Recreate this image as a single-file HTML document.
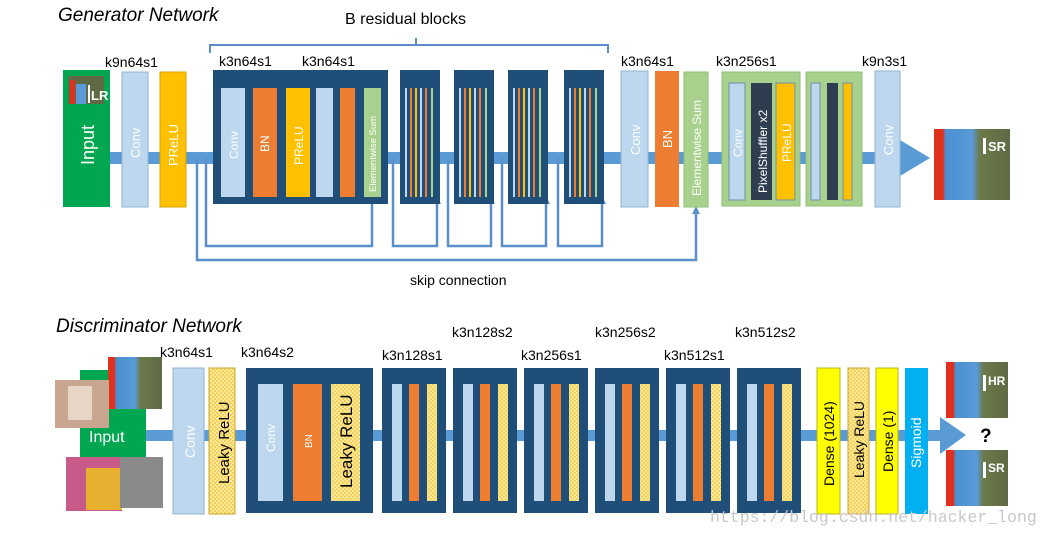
<!DOCTYPE html>
<html><head><meta charset="utf-8"><style>
html,body{margin:0;padding:0;background:#fff;}
svg{display:block;font-family:"Liberation Sans",sans-serif;}
</style></head><body>
<svg width="1051" height="536" viewBox="0 0 1051 536" xmlns="http://www.w3.org/2000/svg">
<defs>
<pattern id="chk" width="4" height="4" patternUnits="userSpaceOnUse">
<rect width="4" height="4" fill="#fbe89a"/><rect width="2" height="2" fill="#f4d25a"/><rect x="2" y="2" width="2" height="2" fill="#f4d25a"/>
</pattern>
<linearGradient id="bab" x1="0" x2="1" y1="0" y2="0">
<stop offset="0" stop-color="#e0301e"/><stop offset="0.12" stop-color="#e0301e"/><stop offset="0.15" stop-color="#4a90d0"/><stop offset="0.5" stop-color="#5a9ad8"/><stop offset="0.6" stop-color="#6b7a4a"/><stop offset="1" stop-color="#5e6a44"/>
</linearGradient>
</defs>
<g fill="#000">
<text x="58" y="21" font-size="19" font-style="italic">Generator Network</text>
<text x="345" y="24" font-size="16">B residual blocks</text>
</g>
<path d="M210 53 V45 H608 V53 M416 45 V38" stroke="#5b8fc9" stroke-width="2" fill="none"/>
<rect x="108" y="152" width="795" height="12" fill="#5b9bd5"/>
<polygon points="900,140 930,158 900,176" fill="#5b9bd5"/>
<g stroke="#5b8fc9" stroke-width="2.5" fill="none">
<path d="M197 158 V260 H696 V212"/>
<path d="M206 158 V246 H372 V202"/>
<path d="M393 158 V246 H437 V202"/>
<path d="M448 158 V246 H491 V202"/>
<path d="M502 158 V246 H546 V202"/>
<path d="M558 158 V246 H602 V202"/>
</g>
<g fill="#5b8fc9">
<polygon points="368,204 376,204 372,196"/><polygon points="433,204 441,204 437,196"/><polygon points="487,204 495,204 491,196"/><polygon points="542,204 550,204 546,196"/><polygon points="598,204 606,204 602,196"/><polygon points="692,214 700,214 696,206"/>
</g>
<text x="410" y="285" font-size="14">skip connection</text>
<rect x="63" y="70" width="47" height="137" fill="#00a650"/>
<rect x="68" y="76" width="36" height="28" fill="#5e6a44"/><rect x="70" y="80" width="5" height="24" fill="#e0301e"/><rect x="76" y="84" width="10" height="20" fill="#5a9ad8"/>
<text x="91" y="100" font-size="13" font-weight="bold" fill="#fff">LR</text>
<rect x="88" y="85" width="2" height="18" fill="#fff"/>
<text transform="translate(94,165) rotate(-90)" font-size="18" fill="#fff">Input</text>
<text x="105" y="67" font-size="14">k9n64s1</text>
<rect x="122" y="72" width="26" height="135" fill="#bdd7ee" stroke="#93b3d3"/>
<text transform="translate(140,158) rotate(-90)" font-size="13" fill="#fff">Conv</text>
<rect x="160" y="72" width="26" height="135" fill="#ffc000" stroke="#d9a300"/>
<text transform="translate(178,166) rotate(-90)" font-size="13" fill="#fff">PReLU</text>
<rect x="213" y="70" width="175" height="134" fill="#1f4e79"/>
<text x="219" y="66" font-size="14">k3n64s1</text><text x="302" y="66" font-size="14">k3n64s1</text>
<rect x="221" y="88" width="24" height="109" fill="#bdd7ee"/>
<rect x="253" y="88" width="24" height="109" fill="#ed7d31"/>
<rect x="286" y="88" width="24" height="109" fill="#ffc000"/>
<rect x="316" y="88" width="17" height="109" fill="#bdd7ee"/>
<rect x="340" y="88" width="15" height="109" fill="#ed7d31"/>
<rect x="364" y="88" width="17" height="109" fill="#a9d18e"/>
<text transform="translate(238,159) rotate(-90)" font-size="12" fill="#fff">Conv</text>
<text transform="translate(269,152) rotate(-90)" font-size="12" fill="#fff">BN</text>
<text transform="translate(303,165) rotate(-90)" font-size="12" fill="#fff">PReLU</text>
<text transform="translate(376,192) rotate(-90)" font-size="9.5" fill="#fff">Elementwise Sum</text>
<g id="sb">
<rect x="400" y="70" width="40" height="134" fill="#1f4e79"/>
<rect x="405" y="88" width="2" height="109" fill="#bdd7ee"/><rect x="410" y="88" width="2" height="109" fill="#ed7d31"/><rect x="415" y="88" width="2" height="109" fill="#ffc000"/><rect x="420" y="88" width="2" height="109" fill="#bdd7ee"/><rect x="425" y="88" width="2" height="109" fill="#ed7d31"/><rect x="431" y="88" width="2" height="109" fill="#a9d18e"/>
</g>
<use href="#sb" x="54"/><use href="#sb" x="108"/><use href="#sb" x="164"/>
<text x="621" y="66" font-size="14">k3n64s1</text>
<rect x="621" y="71" width="27" height="136" fill="#bdd7ee" stroke="#93b3d3"/>
<text transform="translate(640,155) rotate(-90)" font-size="13" fill="#fff">Conv</text>
<rect x="655" y="71" width="24" height="136" fill="#ed7d31"/>
<text transform="translate(672,148) rotate(-90)" font-size="13" fill="#fff">BN</text>
<rect x="684" y="72" width="24" height="135" fill="#a9d18e" stroke="#8fbf70"/>
<text transform="translate(701,196) rotate(-90)" font-size="12" fill="#fff">Elementwise Sum</text>
<text x="716" y="66" font-size="14">k3n256s1</text>
<rect x="722" y="72" width="78" height="134" fill="#a9d18e" stroke="#8fbf70"/>
<rect x="729" y="83" width="16" height="117" fill="#bdd7ee" stroke="#6d8fa8"/>
<rect x="751" y="83" width="21" height="117" fill="#2e3e50"/>
<rect x="776" y="83" width="19" height="117" fill="#ffc000" stroke="#6d8fa8"/>
<text transform="translate(742,157) rotate(-90)" font-size="12" fill="#fff">Conv</text>
<text transform="translate(767,193) rotate(-90)" font-size="12" fill="#fff">PixelShuffler x2</text>
<text transform="translate(791,162) rotate(-90)" font-size="12" fill="#fff">PReLU</text>
<rect x="806" y="72" width="56" height="134" fill="#a9d18e" stroke="#8fbf70"/>
<rect x="811" y="83" width="9" height="117" fill="#bdd7ee" stroke="#6d8fa8"/>
<rect x="827" y="83" width="11" height="117" fill="#2e3e50"/>
<rect x="843" y="83" width="9" height="117" fill="#ffc000" stroke="#6d8fa8"/>
<text x="862" y="66" font-size="14">k9n3s1</text>
<rect x="875" y="71" width="25" height="136" fill="#bdd7ee" stroke="#93b3d3"/>
<text transform="translate(893,155) rotate(-90)" font-size="13" fill="#fff">Conv</text>
<rect x="934" y="129" width="76" height="71" fill="url(#bab)"/>
<rect x="983" y="138" width="3" height="16" fill="#fff"/>
<text x="988" y="151" font-size="13" font-weight="bold" fill="#fff">SR</text>

<text x="56" y="332" font-size="19" font-style="italic">Discriminator Network</text>
<rect x="145" y="430" width="797" height="11" fill="#5b9bd5"/>
<polygon points="940,417 966,435 940,454" fill="#5b9bd5"/>
<text x="980" y="442" font-size="19" font-weight="bold">?</text>
<rect x="80" y="370" width="66" height="96" fill="#00a650"/>
<rect x="108" y="357" width="54" height="52" fill="url(#bab)"/>
<rect x="55" y="380" width="54" height="48" fill="#c9a690"/><rect x="68" y="386" width="24" height="34" fill="#e7d6c8"/>
<rect x="66" y="457" width="56" height="54" fill="#c85a8a"/><rect x="86" y="468" width="36" height="42" fill="#e8b030"/>
<rect x="120" y="457" width="43" height="51" fill="#8a8a8a"/>
<text x="89" y="442" font-size="16" fill="#fff">Input</text>
<text x="160" y="357" font-size="14">k3n64s1</text>
<text x="241" y="357" font-size="14">k3n64s2</text>
<rect x="173" y="368" width="31" height="146" fill="#bdd7ee" stroke="#93b3d3"/>
<text transform="translate(195,458) rotate(-90)" font-size="14" fill="#fff">Conv</text>
<rect x="209" y="368" width="26" height="146" fill="url(#chk)" stroke="#c9a62c"/>
<text transform="translate(229,484) rotate(-90)" font-size="15">Leaky ReLU</text>
<rect x="246" y="368" width="127" height="145" fill="#1f4e79"/>
<rect x="258" y="384" width="25" height="117" fill="#bdd7ee"/>
<rect x="293" y="384" width="29" height="117" fill="#ed7d31"/>
<rect x="331" y="384" width="29" height="117" fill="url(#chk)"/>
<text transform="translate(275,452) rotate(-90)" font-size="12" fill="#fff">Conv</text>
<text transform="translate(312,448) rotate(-90)" font-size="10" fill="#fff">BN</text>
<text transform="translate(352,488) rotate(-90)" font-size="17">Leaky ReLU</text>
<g id="db">
<rect x="382" y="368" width="64" height="145" fill="#1f4e79"/>
<rect x="392" y="384" width="10" height="117" fill="#bdd7ee"/>
<rect x="409" y="384" width="10" height="117" fill="#ed7d31"/>
<rect x="427" y="384" width="10" height="117" fill="url(#chk)"/>
</g>
<use href="#db" x="71"/><use href="#db" x="142"/><use href="#db" x="213"/><use href="#db" x="284"/><use href="#db" x="355"/>
<g font-size="14">
<text x="382" y="360">k3n128s1</text><text x="452" y="337">k3n128s2</text>
<text x="521" y="360">k3n256s1</text><text x="595" y="337">k3n256s2</text>
<text x="664" y="360">k3n512s1</text><text x="735" y="337">k3n512s2</text>
</g>
<rect x="817" y="368" width="23" height="146" fill="#ffff00" stroke="#b5b520"/>
<text transform="translate(834,486) rotate(-90)" font-size="14">Dense (1024)</text>
<rect x="848" y="368" width="21" height="146" fill="url(#chk)" stroke="#c9a62c"/>
<text transform="translate(864,478) rotate(-90)" font-size="14">Leaky ReLU</text>
<rect x="876" y="368" width="22" height="146" fill="#ffff00" stroke="#b5b520"/>
<text transform="translate(893,472) rotate(-90)" font-size="14">Dense (1)</text>
<rect x="905" y="368" width="23" height="146" fill="#00b0f0"/>
<text transform="translate(921,468) rotate(-90)" font-size="14" fill="#fff">Sigmoid</text>
<rect x="946" y="362" width="62" height="56" fill="url(#bab)"/>
<rect x="983" y="375" width="3" height="16" fill="#fff"/><text x="988" y="385" font-size="12" font-weight="bold" fill="#fff">HR</text>
<rect x="946" y="450" width="62" height="56" fill="url(#bab)"/>
<rect x="983" y="462" width="3" height="16" fill="#fff"/><text x="988" y="472" font-size="12" font-weight="bold" fill="#fff">SR</text>
<text x="710" y="522" font-size="16.5" fill="#c8c8c8" font-family="Liberation Mono, monospace">https://blog.csdn.net/hacker_long</text>
</svg>
</body></html>
